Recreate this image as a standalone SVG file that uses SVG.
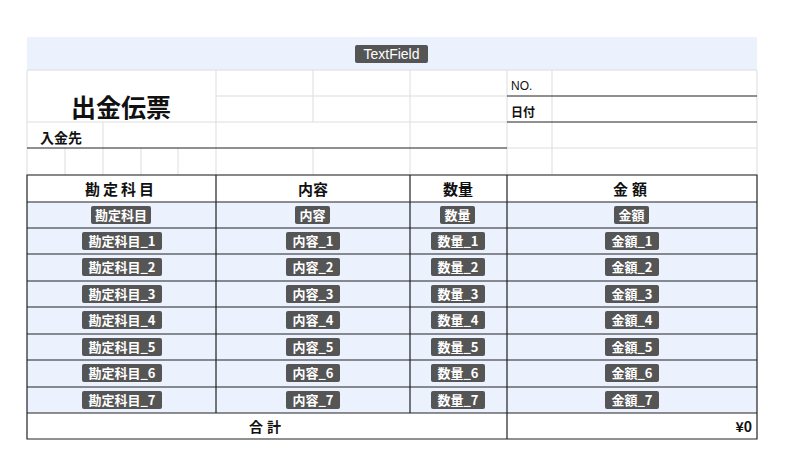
<svg xmlns="http://www.w3.org/2000/svg" width="800" height="450" viewBox="0 0 800 450">
<style>
text{font-family:"Noto Sans CJK JP","Liberation Sans",sans-serif;fill:#111}
.g{stroke:#ddd;stroke-width:1;fill:none}
.d{stroke:#222;stroke-width:1.2;fill:none}
.b{fill:#555;rx:2}
.bt{fill:#fff;font-size:13px;font-weight:bold;text-anchor:middle}
.h{font-size:15px;font-weight:bold;text-anchor:middle}
.row{fill:#ebf1fd}
</style>
<rect width="800" height="450" fill="#fff"/>
<rect x="27" y="37" width="730" height="33" fill="#ebf1fd"/>
<g id="textfield"><rect class="b" x="355" y="45" width="73" height="18"/><text class="bt" x="391.5" y="59" style="font-family:'Liberation Sans',sans-serif;font-weight:normal;font-size:14px">TextField</text></g>
<g id="grid">
<path class="g" d="M27 70H757M216 96H507M27 122H507M27 148V175M65 148V175M103 148V175M141 148V175M178 148V175M216 70V175M313 70V122M313 148V175M410 70V175M507 70V175M552 70V175M757 70V175M103 122V148M507 148H757M27 70V148"/>
<path class="g" d="M27 175H757"/>
<path class="d" d="M27 148H507M507 96H757M507 122H757"/>
</g>
<g id="title"><text x="121" y="117" font-size="25" font-weight="bold" text-anchor="middle">出金伝票</text></g>
<text x="40" y="143" font-size="14" font-weight="bold">入金先</text>
<text x="511" y="90" font-size="12" style="font-family:'Liberation Sans',sans-serif">NO.</text>
<text x="511" y="117" font-size="12" font-weight="bold">日付</text>
<g id="table">
<rect x="27" y="202" width="730" height="211" class="row"/>
<text class="h" x="121" y="195" letter-spacing="3">勘定科目</text>
<text class="h" x="313" y="195">内容</text>
<text class="h" x="458" y="195">数量</text>
<text class="h" x="632" y="195" letter-spacing="4">金額</text>
<path class="d" d="M27 228H757M27 254H757M27 281H757M27 307H757M27 334H757M27 360H757M27 387H757"/>
<path class="d" d="M27 175H757V439H27ZM27 202H757M27 413H757M216 175V413M410 175V413M507 175V439"/>
<g id="badges">
<rect class="b" x="91" y="206" width="60" height="18"/><text class="bt" x="121" y="220">勘定科目</text>
<rect class="b" x="295" y="206" width="35" height="18"/><text class="bt" x="312.5" y="220">内容</text>
<rect class="b" x="440" y="206" width="35" height="18"/><text class="bt" x="457.5" y="220">数量</text>
<rect class="b" x="614" y="206" width="35" height="18"/><text class="bt" x="631.5" y="220">金額</text>
</g>
<g id="rows">
<rect class="b" x="82" y="232" width="80" height="18"/><text class="bt" x="122" y="246">勘定科目_1</text>
<rect class="b" x="286" y="232" width="54" height="18"/><text class="bt" x="313" y="246">内容_1</text>
<rect class="b" x="431" y="232" width="54" height="18"/><text class="bt" x="458" y="246">数量_1</text>
<rect class="b" x="605" y="232" width="54" height="18"/><text class="bt" x="632" y="246">金額_1</text>
<rect class="b" x="82" y="258" width="80" height="18"/><text class="bt" x="122" y="272">勘定科目_2</text>
<rect class="b" x="286" y="258" width="54" height="18"/><text class="bt" x="313" y="272">内容_2</text>
<rect class="b" x="431" y="258" width="54" height="18"/><text class="bt" x="458" y="272">数量_2</text>
<rect class="b" x="605" y="258" width="54" height="18"/><text class="bt" x="632" y="272">金額_2</text>
<rect class="b" x="82" y="285" width="80" height="18"/><text class="bt" x="122" y="299">勘定科目_3</text>
<rect class="b" x="286" y="285" width="54" height="18"/><text class="bt" x="313" y="299">内容_3</text>
<rect class="b" x="431" y="285" width="54" height="18"/><text class="bt" x="458" y="299">数量_3</text>
<rect class="b" x="605" y="285" width="54" height="18"/><text class="bt" x="632" y="299">金額_3</text>
<rect class="b" x="82" y="311" width="80" height="18"/><text class="bt" x="122" y="325">勘定科目_4</text>
<rect class="b" x="286" y="311" width="54" height="18"/><text class="bt" x="313" y="325">内容_4</text>
<rect class="b" x="431" y="311" width="54" height="18"/><text class="bt" x="458" y="325">数量_4</text>
<rect class="b" x="605" y="311" width="54" height="18"/><text class="bt" x="632" y="325">金額_4</text>
<rect class="b" x="82" y="338" width="80" height="18"/><text class="bt" x="122" y="352">勘定科目_5</text>
<rect class="b" x="286" y="338" width="54" height="18"/><text class="bt" x="313" y="352">内容_5</text>
<rect class="b" x="431" y="338" width="54" height="18"/><text class="bt" x="458" y="352">数量_5</text>
<rect class="b" x="605" y="338" width="54" height="18"/><text class="bt" x="632" y="352">金額_5</text>
<rect class="b" x="82" y="364" width="80" height="18"/><text class="bt" x="122" y="378">勘定科目_6</text>
<rect class="b" x="286" y="364" width="54" height="18"/><text class="bt" x="313" y="378">内容_6</text>
<rect class="b" x="431" y="364" width="54" height="18"/><text class="bt" x="458" y="378">数量_6</text>
<rect class="b" x="605" y="364" width="54" height="18"/><text class="bt" x="632" y="378">金額_6</text>
<rect class="b" x="82" y="391" width="80" height="18"/><text class="bt" x="122" y="405">勘定科目_7</text>
<rect class="b" x="286" y="391" width="54" height="18"/><text class="bt" x="313" y="405">内容_7</text>
<rect class="b" x="431" y="391" width="54" height="18"/><text class="bt" x="458" y="405">数量_7</text>
<rect class="b" x="605" y="391" width="54" height="18"/><text class="bt" x="632" y="405">金額_7</text>
</g>
<text x="267" y="432" font-size="14" font-weight="bold" text-anchor="middle" letter-spacing="4">合計</text>
<text x="752" y="432" font-size="14" font-weight="bold" text-anchor="end">¥0</text>
</g>
</svg>
